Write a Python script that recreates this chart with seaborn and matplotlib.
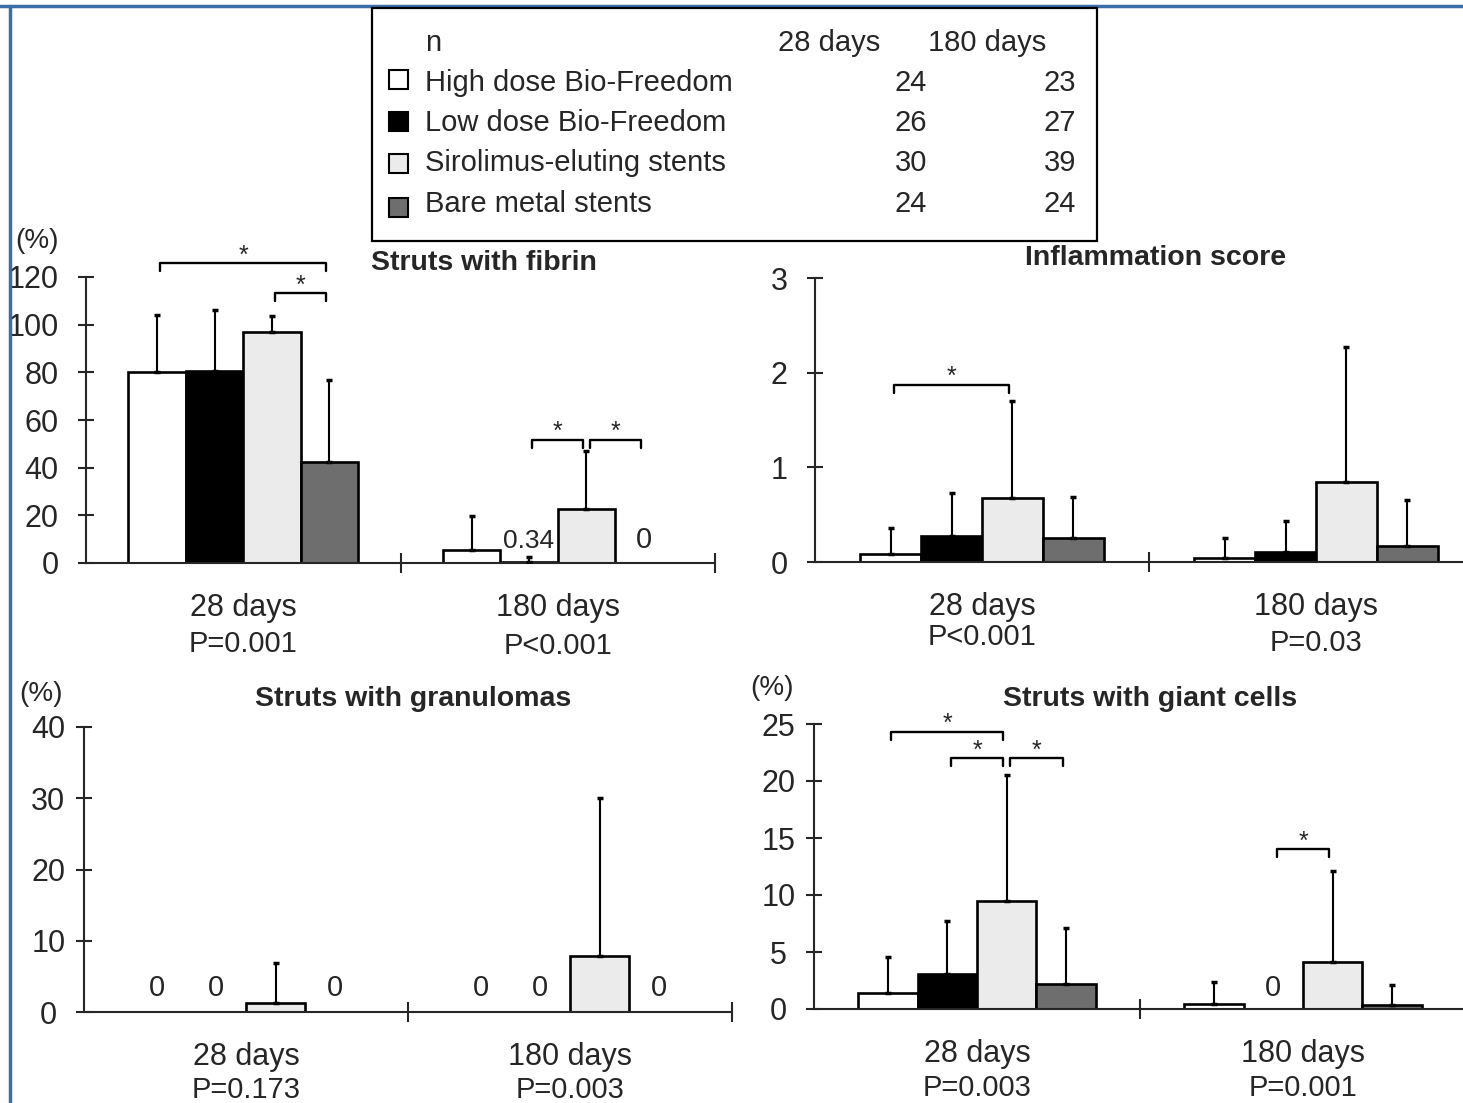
import numpy as np
import pandas as pd
import matplotlib
matplotlib.use("Agg")
import matplotlib.pyplot as plt
from matplotlib.patches import Rectangle
from matplotlib.lines import Line2D
import seaborn as sns

sns.set_style("ticks")
plt.rcParams['font.family'] = ['Liberation Sans', 'DejaVu Sans']

# groups / legend
groups = ["High dose Bio-Freedom", "Low dose Bio-Freedom",
          "Sirolimus-eluting stents", "Bare metal stents"]
colors = ["#ffffff", "#000000", "#ebebeb", "#6e6e6e"]
n_28 = [24, 26, 30, 24]
n_180 = [23, 27, 39, 24]
days = ["28 days", "180 days"]

# Struts with fibrin (%)
fibrin_28 = [80.3, 80.7, 96.8, 42.5]
fibrin_28_sd = [23.7, 25.3, 6.8, 34.2]
fibrin_180 = [5.4, 0.34, 22.5, 0]
fibrin_180_sd = [14.5, 2.1, 24.6, 0]
fibrin_p = ["P=0.001", "P<0.001"]

# Inflammation score
inflam_28 = [0.085, 0.27, 0.675, 0.25]
inflam_28_sd = [0.275, 0.46, 1.025, 0.44]
inflam_180 = [0.04, 0.11, 0.85, 0.17]
inflam_180_sd = [0.21, 0.32, 1.42, 0.48]
inflam_p = ["P<0.001", "P=0.03"]

# Struts with granulomas (%)
gran_28 = [0, 0, 1.3, 0]
gran_28_sd = [0, 0, 5.6, 0]
gran_180 = [0, 0, 7.9, 0]
gran_180_sd = [0, 0, 22.1, 0]
gran_p = ["P=0.173", "P=0.003"]

# Struts with giant cells (%)
giant_28 = [1.4, 3.07, 9.43, 2.2]
giant_28_sd = [3.2, 4.63, 11.07, 4.9]
giant_180 = [0.46, 0, 4.08, 0.38]
giant_180_sd = [1.87, 0, 8.02, 1.72]
giant_p = ["P=0.003", "P=0.001"]

W, H = 1463, 1103
fig = plt.figure(figsize=(W / 100, H / 100), dpi=100)
PT = 0.72  # points per pixel


def make_df(v28, v180, s28, s180):
    rows = []
    for d, vals, sds in [(days[0], v28, s28), (days[1], v180, s180)]:
        for g, v, s in zip(groups, vals, sds):
            rows.append({"day": d, "group": g, "value": v, "sd": s})
    return pd.DataFrame(rows)


def panel(box, df, yticks, pvals, p_off, tick_ha, label_items, brackets):
    l, t, r, b = box
    ax = fig.add_axes([l / W, 1 - b / H, (r - l) / W, (b - t) / H])
    sns.barplot(data=df, x="day", y="value", hue="group", order=days,
                hue_order=groups, palette=dict(zip(groups, colors)),
                width=0.73, edgecolor="black", linewidth=1.9,
                errorbar=None, legend=False, ax=ax)
    ax.set_xlim(-0.5, 1.5)
    ax.set_ylim(0, yticks[-1])
    ax.set_xlabel("")
    ax.set_ylabel("")

    # bar centres per day, in hue order
    centres = {}
    for d in range(2):
        ps = [p for p in ax.patches if abs(p.get_x() + p.get_width() / 2 - d) < 0.5]
        ps.sort(key=lambda p: p.get_x())
        for i, p in enumerate(ps):
            centres[(d, i)] = p.get_x() + p.get_width() / 2
            if p.get_height() == 0:
                p.set_visible(False)

    # one-sided error bars
    for d in range(2):
        sub = df[df["day"] == days[d]].reset_index(drop=True)
        for i, row in sub.iterrows():
            if row["sd"] > 0:
                ax.errorbar(centres[(d, i)], row["value"],
                            yerr=[[0], [row["sd"]]], fmt="none",
                            ecolor="black", elinewidth=1.5, capsize=2.2,
                            capthick=2.5, zorder=3)

    # axes styling
    sns.despine(ax=ax)
    ax.spines["left"].set_bounds(0, yticks[-1])
    for s in ["left", "bottom"]:
        ax.spines[s].set_linewidth(1.5)
    ax.set_yticks(yticks)
    ax.set_yticklabels([str(y) for y in yticks], fontsize=22)
    ax.tick_params(axis="y", direction="inout", length=11.5, width=1.5,
                   pad=14 if tick_ha == "right" else 20)
    for lab in ax.get_yticklabels():
        lab.set_ha(tick_ha)
    ax.set_xticks([0.5, 1.5])
    ax.set_xticklabels(["", ""])
    ax.tick_params(axis="x", direction="inout", length=13.7, width=1.5)

    # category labels and p values
    for d in range(2):
        ax.annotate(days[d], xy=(d, 0), xycoords=("data", "axes fraction"),
                    xytext=(0, -45 * PT), textcoords="offset points",
                    ha="center", va="center", fontsize=22,
                    annotation_clip=False)
        ax.annotate(pvals[d], xy=(d, 0), xycoords=("data", "axes fraction"),
                    xytext=(0, -p_off[d] * PT), textcoords="offset points",
                    ha="center", va="center", fontsize=21,
                    annotation_clip=False)

    # value labels for invisible bars
    for d, i, y in label_items:
        v = df[(df["day"] == days[d]) & (df["group"] == groups[i])]["value"].iloc[0]
        ax.text(centres[(d, i)], y, f"{v:g}", ha="center", va="center",
                fontsize=21 if v == 0 else 19)

    # significance brackets
    leg = 8 * yticks[-1] / (b - t)
    for d, i, j, ytop in brackets:
        x1 = centres[(d, i)] + 0.01
        x2 = centres[(d, j)] - 0.01
        ax.plot([x1, x1, x2, x2], [ytop - leg, ytop, ytop, ytop - leg],
                color="black", lw=1.7, clip_on=False)
        ax.text((x1 + x2) / 2, ytop + 0.1 * leg, "*", ha="center",
                va="baseline", fontsize=18, clip_on=False)
    return ax


panel((86, 277, 715, 563), make_df(fibrin_28, fibrin_180, fibrin_28_sd, fibrin_180_sd),
      [0, 20, 40, 60, 80, 100, 120], fibrin_p, [81, 83], "right",
      [(1, 1, 9.4), (1, 3, 9.6)],
      [(0, 0, 3, 125.7), (0, 2, 3, 113.2), (1, 1, 2, 51.6), (1, 2, 3, 51.6)])

panel((815, 278, 1483, 562), make_df(inflam_28, inflam_180, inflam_28_sd, inflam_180_sd),
      [0, 1, 2, 3], inflam_p, [75, 81], "right",
      [], [(0, 0, 2, 1.87)])

panel((84, 727, 732, 1012), make_df(gran_28, gran_180, gran_28_sd, gran_180_sd),
      [0, 10, 20, 30, 40], gran_p, [78, 78], "center",
      [(0, 0, 3.3), (0, 1, 3.3), (0, 3, 3.3), (1, 0, 3.3), (1, 1, 3.3), (1, 3, 3.3)],
      [])

panel((814, 724, 1466, 1009), make_df(giant_28, giant_180, giant_28_sd, giant_180_sd),
      [0, 5, 10, 15, 20, 25], giant_p, [79, 79], "center",
      [(1, 1, 1.84)],
      [(0, 0, 2, 24.3), (0, 1, 2, 22.0), (0, 2, 3, 22.0), (1, 1, 2, 14.0)])


def ftext(x, y, s, **kw):
    fig.text(x / W, 1 - y / H, s, **kw)


# panel titles and units
ftext(484, 263, "Struts with fibrin", ha="center", va="center", fontsize=20.5, fontweight="bold")
ftext(1156, 258, "Inflammation score", ha="center", va="center", fontsize=20.5, fontweight="bold")
ftext(413, 699, "Struts with granulomas", ha="center", va="center", fontsize=20.5, fontweight="bold")
ftext(1150, 699, "Struts with giant cells", ha="center", va="center", fontsize=20.5, fontweight="bold")
ftext(37, 241, "(%)", ha="center", va="center", fontsize=20)
ftext(41, 694, "(%)", ha="center", va="center", fontsize=20)
ftext(772, 688, "(%)", ha="center", va="center", fontsize=20)

# legend table
fig.patches.append(Rectangle((372 / W, 1 - 241 / H), (1097 - 372) / W, (241 - 8) / H,
                             transform=fig.transFigure, facecolor="white",
                             edgecolor="black", lw=1.6, zorder=5))
ftext(425, 43, "n", ha="left", va="center", fontsize=21, zorder=6)
ftext(829, 43, "28 days", ha="center", va="center", fontsize=21, zorder=6)
ftext(987, 43, "180 days", ha="center", va="center", fontsize=21, zorder=6)
row_y = [83, 123, 163, 204]
mark_y = [79, 121, 163, 207]
for g, c, a, bb, y, my in zip(groups, colors, n_28, n_180, row_y, mark_y):
    fig.patches.append(Rectangle(((398 - 9.5) / W, 1 - (my + 9.5) / H), 19 / W, 19 / H,
                                 transform=fig.transFigure, facecolor=c,
                                 edgecolor="black", lw=1.5, zorder=6))
    ftext(425, y, g, ha="left", va="center", fontsize=21, zorder=6)
    ftext(927, y, str(a), ha="right", va="center", fontsize=21, zorder=6)
    ftext(1076, y, str(bb), ha="right", va="center", fontsize=21, zorder=6)

# blue frame
fig.lines.append(Line2D([0, 1], [1 - 6 / H] * 2, transform=fig.transFigure,
                        color="#3b6ea8", lw=2.5))
fig.lines.append(Line2D([10 / W] * 2, [0, 1 - 6 / H], transform=fig.transFigure,
                        color="#3b6ea8", lw=2.5))

fig.savefig("out.png", dpi=100)
